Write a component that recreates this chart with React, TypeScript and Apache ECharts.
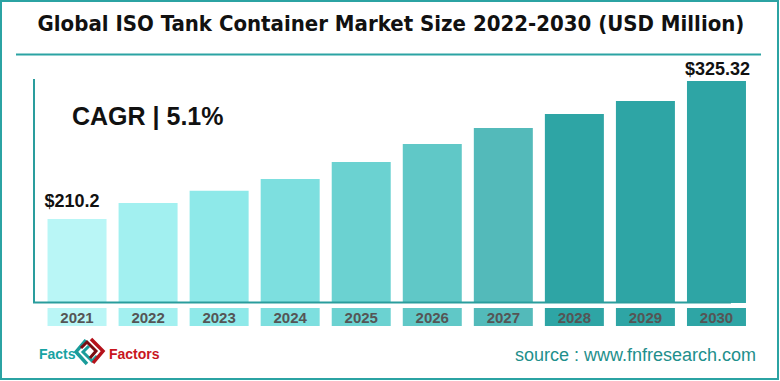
import React, { useEffect, useRef } from "react";
import * as echarts from "echarts";

const years = ["2021", "2022", "2023", "2024", "2025", "2026", "2027", "2028", "2029", "2030"];
const marketSize = [210.2, 223.5, 233.6, 243.6, 257.8, 272.8, 286.1, 297.8, 308.6, 325.32];
const barColors = ["#b9f6f6", "#a2f0f0", "#8ee9e9", "#7ddfdf", "#6bd2d1", "#60c8c7", "#53baba", "#2ea5a5", "#2ea5a5", "#2ea5a5"];
const titleText = "Global ISO Tank Container Market Size 2022-2030 (USD Million)";
const cagrText = "CAGR | 5.1%";
const sourceText = "source : www.fnfresearch.com";

export default function App() {
  const ref = useRef<HTMLDivElement>(null);
  useEffect(() => {
    document.body.style.margin = "0";
    if (!ref.current) return;
    const chart = echarts.init(ref.current, null, { renderer: "svg" });
    const rich: Record<string, any> = {};
    barColors.forEach((c, i) => {
      rich["r" + i] = {
        backgroundColor: c,
        width: 59,
        height: 18,
        lineHeight: 18,
        align: "center",
        fontWeight: "bold",
        fontSize: 15,
        color: "#555555",
        fontFamily: "Liberation Sans, Arial, sans-serif",
      };
    });
    const lastIdx = marketSize.length - 1;
    chart.setOption({
      animation: false,
      backgroundColor: "#ffffff",
      grid: { left: 41.5, right: 28, top: 81, bottom: 78, containLabel: false },
      xAxis: {
        type: "category",
        data: years,
        axisLine: { show: false },
        axisTick: { show: false },
        axisLabel: {
          margin: 5,
          formatter: (v: string, i: number) => `{r${i}|${v}}`,
          rich,
        },
      },
      yAxis: {
        type: "value",
        min: 140,
        max: 325.32,
        show: false,
        splitLine: { show: false },
      },
      series: [
        {
          type: "bar",
          barWidth: 59,
          data: marketSize.map((v, i) => ({
            value: v,
            itemStyle: { color: barColors[i] },
            label:
              i === 0
                ? { show: true, position: "top", distance: 9, offset: [-5, 0] }
                : i === lastIdx
                ? { show: true, position: "top", distance: 3, offset: [1, 0] }
                : { show: false },
          })),
          label: {
            formatter: (p: any) => "$" + p.value,
            color: "#111111",
            fontWeight: "bold",
            fontSize: 18,
            fontFamily: "Liberation Sans, Arial, sans-serif",
          },
        },
      ],
      graphic: [
        {
          type: "rect",
          shape: { x: 1, y: 1, width: 777, height: 378 },
          style: { fill: "none", stroke: "#2ba3a3", lineWidth: 2 },
          silent: true,
        },
        {
          type: "text",
          x: 391,
          y: 23,
          style: {
            text: titleText,
            textAlign: "center",
            textVerticalAlign: "middle",
            fontSize: 22,
            fontWeight: "bold",
            fontFamily: "Liberation Sans Narrow, DejaVu Sans Condensed, sans-serif",
            fill: "#111111",
          },
        },
        {
          type: "line",
          shape: { x1: 16, y1: 54.5, x2: 761, y2: 54.5 },
          style: { stroke: "#2ba3a3", lineWidth: 2 },
        },
        {
          type: "line",
          shape: { x1: 34, y1: 79, x2: 34, y2: 303 },
          style: { stroke: "#2a9d9d", lineWidth: 2 },
        },
        {
          type: "line",
          shape: { x1: 33, y1: 302.5, x2: 731, y2: 302.5 },
          style: { stroke: "#2a9d9d", lineWidth: 2 },
          z: 10,
        },
        {
          type: "text",
          x: 72,
          y: 116,
          style: {
            text: cagrText,
            textVerticalAlign: "middle",
            fontSize: 25,
            fontWeight: "bold",
            fontFamily: "Liberation Sans, Arial, sans-serif",
            fill: "#111111",
          },
        },
        {
          type: "text",
          x: 756,
          y: 355,
          style: {
            text: sourceText,
            textAlign: "right",
            textVerticalAlign: "middle",
            fontSize: 18,
            fontFamily: "Liberation Sans, Arial, sans-serif",
            fill: "#1e8f8c",
          },
        },
        {
          type: "text",
          x: 39,
          y: 354,
          style: {
            text: "Facts",
            textVerticalAlign: "middle",
            fontSize: 14,
            fontWeight: "bold",
            fontFamily: "Liberation Sans Narrow, sans-serif",
            fill: "#17a3a3",
          },
        },
        {
          type: "text",
          x: 109,
          y: 354,
          style: {
            text: "Factors",
            textVerticalAlign: "middle",
            fontSize: 14,
            fontWeight: "bold",
            fontFamily: "Liberation Sans Narrow, sans-serif",
            fill: "#c8161e",
          },
        },
        {
          type: "polyline",
          shape: { points: [[86, 340], [76, 352], [87, 364]] },
          style: { stroke: "#1a9c9a", lineWidth: 3.5, fill: "none" },
        },
        {
          type: "polyline",
          shape: { points: [[89, 346], [83, 352], [92, 361], [97, 356]] },
          style: { stroke: "#1a9c9a", lineWidth: 3, fill: "none" },
        },
        {
          type: "polyline",
          shape: { points: [[91, 339], [103, 351], [93, 363]] },
          style: { stroke: "#b5121b", lineWidth: 3.5, fill: "none" },
        },
        {
          type: "polyline",
          shape: { points: [[81, 348], [87, 342], [96, 351], [90, 358]] },
          style: { stroke: "#7a0d12", lineWidth: 3, fill: "none" },
        },
      ],
    });
    return () => chart.dispose();
  }, []);
  return <div ref={ref} style={{ width: 780, height: 381 }} />;
}
